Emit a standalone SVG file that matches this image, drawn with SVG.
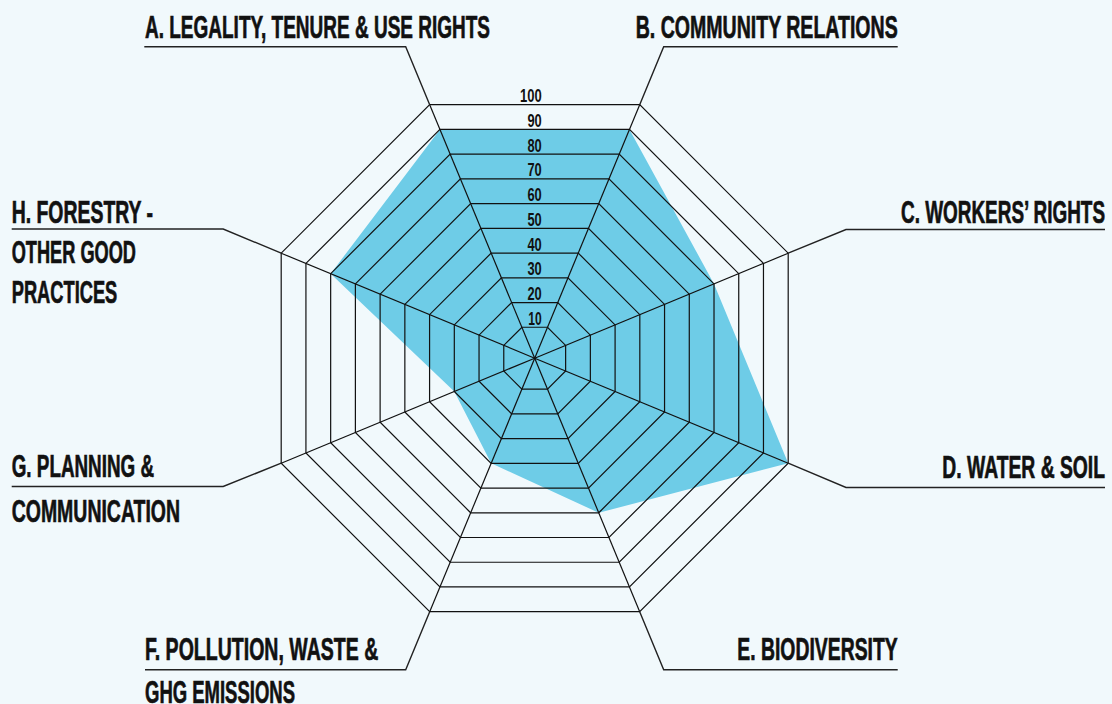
<svg xmlns="http://www.w3.org/2000/svg" width="1112" height="704" viewBox="0 0 1112 704">
<style>
.bg{fill:#F1F9FC}
.ring{fill:none;stroke:#111;stroke-width:1.2;stroke-linejoin:miter}
.spoke{stroke:#111;stroke-width:1.2}
.data{fill:#6ECCE7;stroke:none}
.lead{fill:none;stroke:#222;stroke-width:1.4}
.lbl{font-family:"Liberation Sans",Arial,sans-serif;font-weight:bold;font-size:32px;fill:#111;stroke:#111;stroke-width:0.7}
.r{text-anchor:end}
.num{font-family:"Liberation Sans",Arial,sans-serif;font-weight:bold;font-size:17.5px;fill:#111;text-anchor:end}
</style>
<rect class="bg" x="0" y="0" width="1112" height="704"/>
<g id="chart" transform="translate(534.7,358.2)">
  <polygon id="data" class="data" points="-94.76,-228.77 94.76,-228.77 179.31,-74.27 253.5,105 64.03,154.58 -43.54,105.12 -80.39,33.3 -204.04,-84.52"/>
  <g id="rings">
    <polygon class="ring" points="-12.81,-30.93 12.81,-30.93 30.93,-12.81 30.93,12.81 12.81,30.93 -12.81,30.93 -30.93,12.81 -30.93,-12.81"/>
    <polygon class="ring" points="-23.06,-55.66 23.06,-55.66 55.66,-23.06 55.66,23.06 23.06,55.66 -23.06,55.66 -55.66,23.06 -55.66,-23.06"/>
    <polygon class="ring" points="-33.3,-80.39 33.3,-80.39 80.39,-33.3 80.39,33.3 33.3,80.39 -33.3,80.39 -80.39,33.3 -80.39,-33.3"/>
    <polygon class="ring" points="-43.54,-105.12 43.54,-105.12 105.12,-43.54 105.12,43.54 43.54,105.12 -43.54,105.12 -105.12,43.54 -105.12,-43.54"/>
    <polygon class="ring" points="-53.79,-129.85 53.79,-129.85 129.85,-53.79 129.85,53.79 53.79,129.85 -53.79,129.85 -129.85,53.79 -129.85,-53.79"/>
    <polygon class="ring" points="-64.03,-154.58 64.03,-154.58 154.58,-64.03 154.58,64.03 64.03,154.58 -64.03,154.58 -154.58,64.03 -154.58,-64.03"/>
    <polygon class="ring" points="-74.27,-179.31 74.27,-179.31 179.31,-74.27 179.31,74.27 74.27,179.31 -74.27,179.31 -179.31,74.27 -179.31,-74.27"/>
    <polygon class="ring" points="-84.52,-204.04 84.52,-204.04 204.04,-84.52 204.04,84.52 84.52,204.04 -84.52,204.04 -204.04,84.52 -204.04,-84.52"/>
    <polygon class="ring" points="-94.76,-228.77 94.76,-228.77 228.77,-94.76 228.77,94.76 94.76,228.77 -94.76,228.77 -228.77,94.76 -228.77,-94.76"/>
    <polygon class="ring" points="-105,-253.5 105,-253.5 253.5,-105 253.5,105 105,253.5 -105,253.5 -253.5,105 -253.5,-105"/>
  </g>
  <g id="spokes">
    <line class="spoke" x1="0" y1="0" x2="-105" y2="-253.5"/>
    <line class="spoke" x1="0" y1="0" x2="105" y2="-253.5"/>
    <line class="spoke" x1="0" y1="0" x2="253.5" y2="-105"/>
    <line class="spoke" x1="0" y1="0" x2="253.5" y2="105"/>
    <line class="spoke" x1="0" y1="0" x2="105" y2="253.5"/>
    <line class="spoke" x1="0" y1="0" x2="-105" y2="253.5"/>
    <line class="spoke" x1="0" y1="0" x2="-253.5" y2="105"/>
    <line class="spoke" x1="0" y1="0" x2="-253.5" y2="-105"/>
  </g>
</g>
<g id="scale">
  <text class="num" transform="translate(541.7,102.2) scale(0.74,1)" textLength="29.3" lengthAdjust="spacingAndGlyphs">100</text>
  <text class="num" transform="translate(541.7,126.9) scale(0.74,1)" textLength="19.3" lengthAdjust="spacingAndGlyphs">90</text>
  <text class="num" transform="translate(541.7,151.7) scale(0.74,1)" textLength="19.3" lengthAdjust="spacingAndGlyphs">80</text>
  <text class="num" transform="translate(541.7,176.4) scale(0.74,1)" textLength="19.3" lengthAdjust="spacingAndGlyphs">70</text>
  <text class="num" transform="translate(541.7,201.1) scale(0.74,1)" textLength="19.3" lengthAdjust="spacingAndGlyphs">60</text>
  <text class="num" transform="translate(541.7,225.9) scale(0.74,1)" textLength="19.3" lengthAdjust="spacingAndGlyphs">50</text>
  <text class="num" transform="translate(541.7,250.6) scale(0.74,1)" textLength="19.3" lengthAdjust="spacingAndGlyphs">40</text>
  <text class="num" transform="translate(541.7,275.3) scale(0.74,1)" textLength="19.3" lengthAdjust="spacingAndGlyphs">30</text>
  <text class="num" transform="translate(541.7,300) scale(0.74,1)" textLength="19.3" lengthAdjust="spacingAndGlyphs">20</text>
  <text class="num" transform="translate(541.7,324.8) scale(0.74,1)" textLength="18.1" lengthAdjust="spacingAndGlyphs">10</text>
</g>
<g id="connectors">
  <polyline class="lead" points="429.7,104.7 405.7,46.7 144.3,46.7"/>
  <polyline class="lead" points="639.7,104.7 663.7,46.7 897.7,46.7"/>
  <polyline class="lead" points="788.2,253.2 846,229.5 1105,229.5"/>
  <polyline class="lead" points="788.2,463.2 846,487.5 1105,487.5"/>
  <polyline class="lead" points="639.7,611.7 663.7,669.7 897.7,669.7"/>
  <polyline class="lead" points="429.7,611.7 405.7,669.7 145,669.7"/>
  <polyline class="lead" points="281.2,463.2 223.2,486.5 11.7,486.5"/>
  <polyline class="lead" points="281.2,253.2 223.2,229 11.7,229"/>
</g>
<g id="node-a"><text class="lbl" transform="translate(145,38.3) scale(0.59,1)" textLength="584.7" lengthAdjust="spacingAndGlyphs">A. LEGALITY, TENURE &amp; USE RIGHTS</text></g>
<g id="node-b"><text class="lbl r" transform="translate(897.7,37.5) scale(0.59,1)" textLength="444.1" lengthAdjust="spacingAndGlyphs">B. COMMUNITY RELATIONS</text></g>
<g id="node-c"><text class="lbl r" transform="translate(1105,223.3) scale(0.59,1)" textLength="345.8" lengthAdjust="spacingAndGlyphs">C. WORKERS’ RIGHTS</text></g>
<g id="node-d"><text class="lbl r" transform="translate(1105,478.3) scale(0.59,1)" textLength="275.8" lengthAdjust="spacingAndGlyphs">D. WATER &amp; SOIL</text></g>
<g id="node-e"><text class="lbl r" transform="translate(897.7,660) scale(0.59,1)" textLength="271.9" lengthAdjust="spacingAndGlyphs">E. BIODIVERSITY</text></g>
<g id="node-f">
  <text class="lbl" transform="translate(145,660) scale(0.59,1)" textLength="395.4" lengthAdjust="spacingAndGlyphs">F. POLLUTION, WASTE &amp;</text>
  <text class="lbl" transform="translate(145,703) scale(0.59,1)" textLength="254.2" lengthAdjust="spacingAndGlyphs">GHG EMISSIONS</text>
</g>
<g id="node-g">
  <text class="lbl" transform="translate(11.7,477.3) scale(0.59,1)" textLength="241.2" lengthAdjust="spacingAndGlyphs">G. PLANNING &amp;</text>
  <text class="lbl" transform="translate(11.7,521.7) scale(0.59,1)" textLength="285.3" lengthAdjust="spacingAndGlyphs">COMMUNICATION</text>
</g>
<g id="node-h">
  <text class="lbl" transform="translate(11.7,222.7) scale(0.59,1)" textLength="239.5" lengthAdjust="spacingAndGlyphs">H. FORESTRY -</text>
  <text class="lbl" transform="translate(11.7,262.7) scale(0.59,1)" textLength="210.7" lengthAdjust="spacingAndGlyphs">OTHER GOOD</text>
  <text class="lbl" transform="translate(11.7,303.3) scale(0.59,1)" textLength="179" lengthAdjust="spacingAndGlyphs">PRACTICES</text>
</g>
</svg>
